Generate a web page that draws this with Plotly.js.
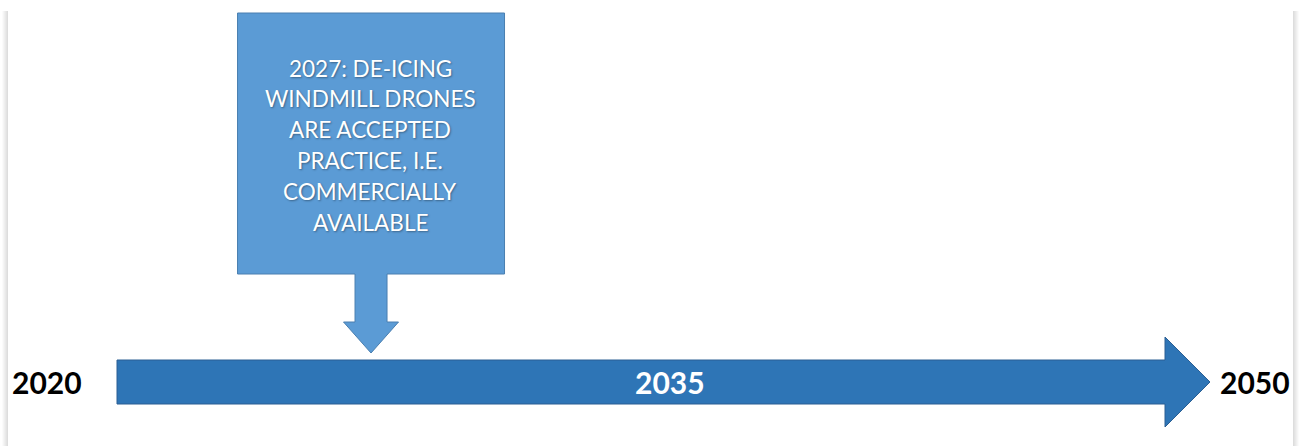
<!DOCTYPE html>
<html>
<head>
<meta charset="utf-8">
<script src="https://cdn.plot.ly/plotly-3.0.1.min.js"></script>
<style>html,body{margin:0;padding:0;background:#fff;}#chart{width:1300px;height:446px;}</style>
</head>
<body>
<div id="chart"></div>
<script>
// ---- data ----
const startYear = 2020;
const midYear = 2035;
const endYear = 2050;
const eventYear = 2027;
const eventLines = ["2027: DE-ICING", "WINDMILL DRONES", "ARE ACCEPTED", "PRACTICE, I.E.", "COMMERCIALLY", "AVAILABLE"];
const yearLabels = ["2020", "2035", "2050"];

// ---- layout helpers (pixel geometry converted to year units) ----
const W = 1300, H = 446;
const pxStart = 117, pxEnd = 1210;
const pxPerYear = (pxEnd - pxStart) / (endYear - startYear);
const xMin = startYear - pxStart / pxPerYear;
const xMax = xMin + W / pxPerYear;
const dx = p => p / pxPerYear; // pixel length -> years

// timeline arrow
const headLen = dx(45);
const bodyTop = 360, bodyBot = 404, headTop = 337, headBot = 427, midY = 382;
const tl = `M ${startYear} ${bodyTop} L ${endYear - headLen} ${bodyTop} L ${endYear - headLen} ${headTop} L ${endYear} ${midY} L ${endYear - headLen} ${headBot} L ${endYear - headLen} ${bodyBot} L ${startYear} ${bodyBot} Z`;

// callout
const bx0 = eventYear - dx(134.5), bx1 = eventYear + dx(132.5);
const sx0 = eventYear - dx(17), sx1 = eventYear + dx(15);
const hx0 = eventYear - dx(28.5), hx1 = eventYear + dx(26.5);
const boxTop = 13, boxBot = 274, stemBot = 322, tipY = 353;
const tipX = eventYear - dx(1);
const co = `M ${bx0} ${boxTop} L ${bx1} ${boxTop} L ${bx1} ${boxBot} L ${sx1} ${boxBot} L ${sx1} ${stemBot} L ${hx1} ${stemBot} L ${tipX} ${tipY} L ${hx0} ${stemBot} L ${sx0} ${stemBot} L ${sx0} ${boxBot} L ${bx0} ${boxBot} Z`;

const shapes = [];
// soft page-edge shadows (pixel strips, in paper coordinates)
const leftShade = ['#fbfbfb', '#f5f5f5', '#efefef', '#e9e9e9', '#e3e3e3', '#dddddd'];
const rightShade = ['#dddddd', '#e3e3e3', '#e9e9e9', '#efefef', '#f5f5f5', '#fbfbfb'];
const shadeTop = 1 - 11 / H;
leftShade.forEach((c, i) => {
  const p = 2 + i;
  shapes.push({type:'rect', xref:'paper', yref:'paper', x0:p / W, x1:(p + 1) / W, y0:0, y1:shadeTop, fillcolor:c, line:{width:0}, layer:'below'});
});
rightShade.forEach((c, i) => {
  const p = 1293 + i;
  shapes.push({type:'rect', xref:'paper', yref:'paper', x0:p / W, x1:(p + 1) / W, y0:0, y1:shadeTop, fillcolor:c, line:{width:0}, layer:'below'});
});
shapes.push({type:'path', xref:'x', yref:'y', path: tl, fillcolor:'#2E75B6', line:{color:'#2B5F93', width:1}});
shapes.push({type:'path', xref:'x', yref:'y', path: co, fillcolor:'#5B9BD5', line:{color:'#4A7FB0', width:1}});

const font = "Lato, 'Open Sans', sans-serif";
const annotations = [];
const lineTop = 68, lineGap = 30.8;
eventLines.forEach((t, i) => {
  annotations.push({x: eventYear, y: lineTop + i * lineGap, xref:'x', yref:'y', text: t, showarrow:false,
    xanchor:'center', yanchor:'middle', xshift:-2, font:{family:font, size:22.5, color:'#ffffff', shadow:'1px 1px 2px rgba(0,0,0,0.35)'}});
});
annotations.push({x: startYear, y: midY, xref:'x', yref:'y', text: '<b>' + yearLabels[0] + '</b>', showarrow:false,
  xanchor:'right', yanchor:'middle', xshift:-33, font:{family:font, size:30, color:'#000000'}});
annotations.push({x: midYear, y: midY, xref:'x', yref:'y', text: '<b>' + yearLabels[1] + '</b>', showarrow:false,
  xanchor:'center', yanchor:'middle', xshift:6, font:{family:font, size:30, color:'#ffffff'}});
annotations.push({x: endYear, y: midY, xref:'x', yref:'y', text: '<b>' + yearLabels[2] + '</b>', showarrow:false,
  xanchor:'left', yanchor:'middle', xshift:8, font:{family:font, size:30, color:'#000000'}});

const layout = {
  width: W, height: H,
  margin: {l:0, r:0, t:0, b:0},
  paper_bgcolor:'#ffffff', plot_bgcolor:'#ffffff',
  xaxis: {range:[xMin, xMax], visible:false, fixedrange:true},
  yaxis: {range:[H, 0], visible:false, fixedrange:true},
  shapes: shapes,
  annotations: annotations,
  showlegend:false
};

Plotly.newPlot('chart', [{x:[startYear, endYear], y:[midY, midY], mode:'none', hoverinfo:'skip', type:'scatter'}], layout, {displayModeBar:false, staticPlot:true});
</script>
</body>
</html>
